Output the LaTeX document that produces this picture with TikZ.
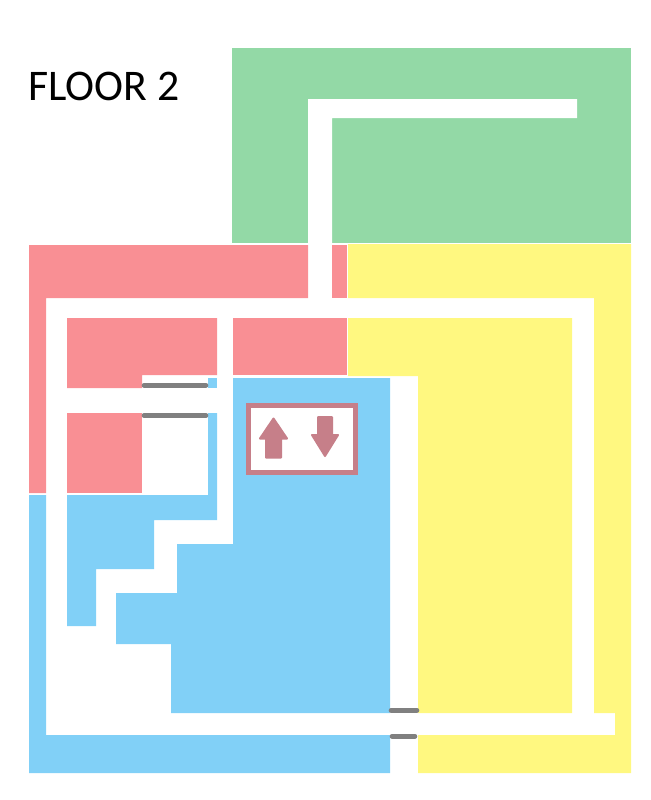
\documentclass[tikz,border=0pt]{standalone}
\usepackage{fontspec}
\setmainfont{Carlito}

\begin{document}
\begin{tikzpicture}[x=0.75pt,y=0.75pt,yscale=-1,xscale=1,
  greenzone/.style={fill={rgb, 255:red, 147; green, 217; blue, 166 }},
  redzone/.style={fill={rgb, 255:red, 249; green, 143; blue, 148 }},
  yellowzone/.style={fill={rgb, 255:red, 255; green, 248; blue, 128 }},
  bluezone/.style={fill={rgb, 255:red, 129; green, 208; blue, 247 }},
  corridor/.style={fill=white},
  doorbar/.style={draw={rgb, 255:red, 128; green, 128; blue, 128 },line width=3.5pt,line cap=round},
  liftmark/.style={draw={rgb, 255:red, 198; green, 127; blue, 137 },fill={rgb, 255:red, 198; green, 127; blue, 137 },line width=1.5pt,line join=round}]
\useasboundingbox (0,0) rectangle (650,800);

%Green zone and its corridor
\path [greenzone] (232,48) rectangle (631,243);
\path [corridor] (308,99) -- (577,99) -- (577,118) -- (332,118) -- (332,243) -- (308,243) -- cycle;

%Red zone
\path [redzone] (29,245) -- (308,245) -- (308,298) -- (46,298) -- (46,493) -- (29,493) -- cycle;
\path [redzone] (332,245) rectangle (347,298);
\path [redzone] (67,318) -- (217,318) -- (217,375) -- (142,375) -- (142,388) -- (67,388) -- cycle;
\path [redzone] (233,318) rectangle (347,375);
\path [redzone] (67,413) rectangle (142,493);

%Yellow zone
\path [yellowzone] (348,244) -- (631,244) -- (631,773) -- (418,773) -- (418,735) -- (615,735) -- (615,713) -- (594,713) -- (594,298) -- (348,298) -- cycle;
\path [yellowzone] (348,318) -- (572,318) -- (572,713) -- (418,713) -- (418,376) -- (348,376) -- cycle;

%Blue zone
\path [bluezone] (29,495) -- (46,495) -- (46,735) -- (390,735) -- (390,773) -- (29,773) -- cycle;
\path [bluezone] (67,495) -- (208,495) -- (208,413) -- (217,413) -- (217,520) -- (154,520) -- (154,569) -- (96,569) -- (96,626) -- (67,626) -- cycle;
\path [bluezone] (208,378) rectangle (217,388);
\path [bluezone] (233,378) -- (390,378) -- (390,713) -- (171,713) -- (171,644) -- (116,644) -- (116,593) -- (177,593) -- (177,544) -- (233,544) -- cycle;

%Doors
\draw [doorbar] (144,385.3) -- (206,385.3);
\draw [doorbar] (144,415.5) -- (206,415.5);
\draw [doorbar] (391,710.3) -- (417,710.3);
\draw [doorbar] (392,736.3) -- (415,736.3);

%Lift
\draw [draw={rgb, 255:red, 198; green, 127; blue, 137 },fill=white,line width=3.75pt] (248.5,405.5) rectangle (355.5,472.5);
\draw [liftmark] (273.5,418.5) -- (287,438.5) -- (281,438.5) -- (281,457.5) -- (266,457.5) -- (266,438.5) -- (260,438.5) -- cycle;
\draw [liftmark] (325,456) -- (338,435) -- (332,435) -- (332,417) -- (318,417) -- (318,435) -- (312,435) -- cycle;

%Title
\node [anchor=base west,inner sep=0pt,font=\fontsize{32.8}{36}\selectfont] (floortitle) at (28,100) {FLOOR 2};

\end{tikzpicture}
\end{document}
